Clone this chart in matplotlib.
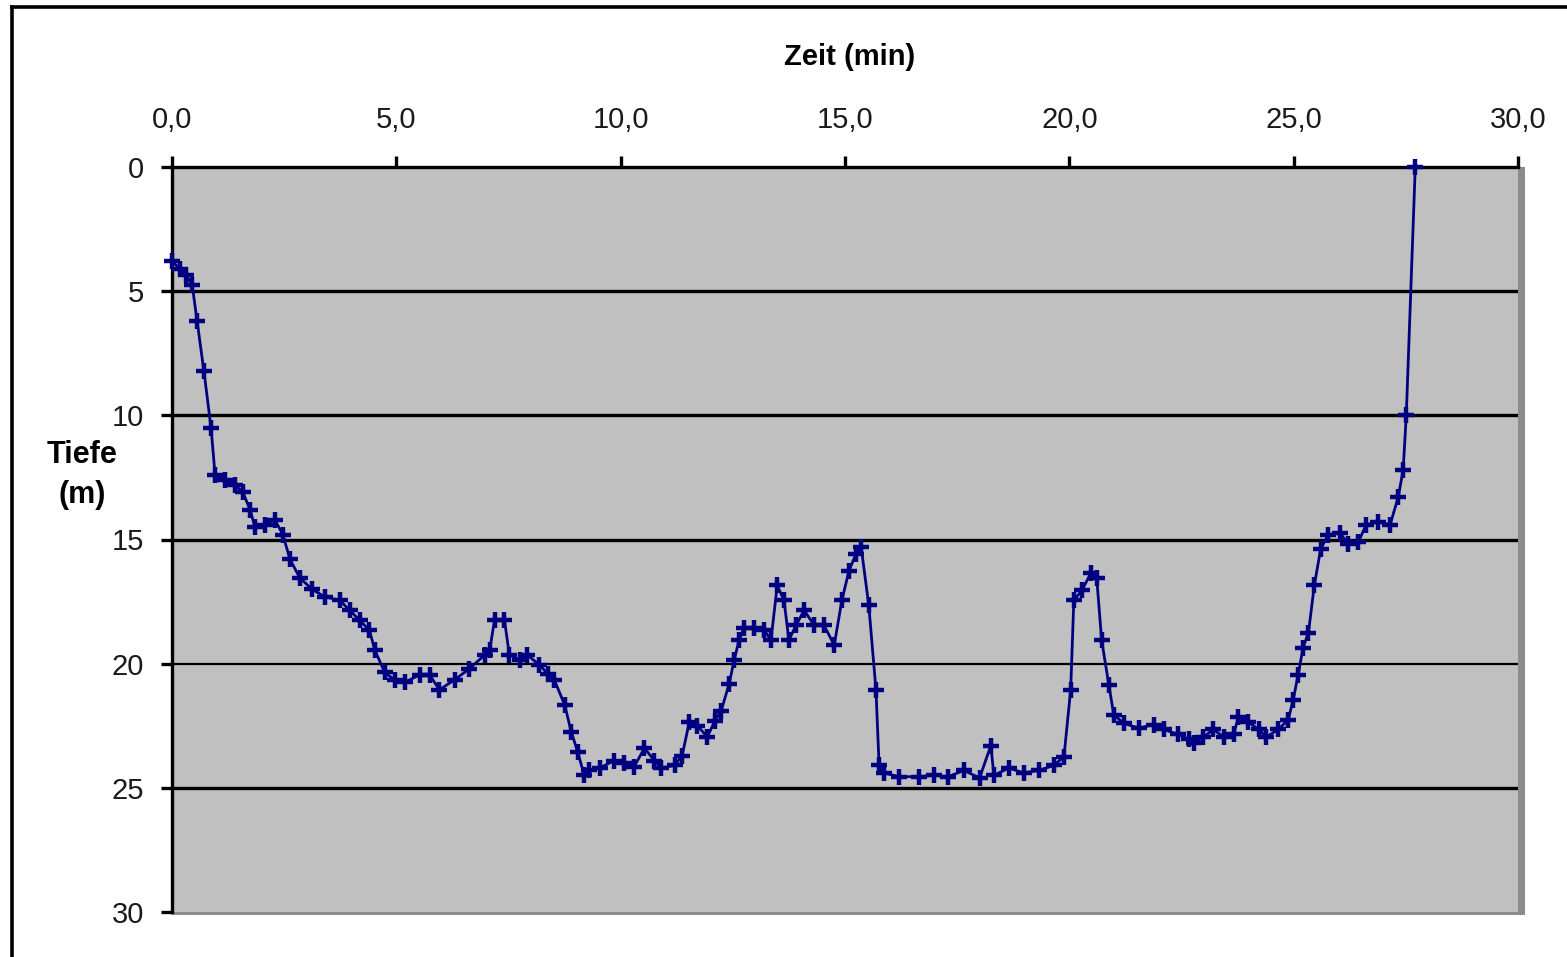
import matplotlib
matplotlib.use("Agg")
import matplotlib.pyplot as plt
from matplotlib.patches import Rectangle
from matplotlib.lines import Line2D

# ---- data ----
zeit_min = [0.00, 0.18, 0.31, 0.45, 0.56, 0.71, 0.87, 0.96, 1.18, 1.40, 1.58, 1.74,
            1.85, 2.07, 2.29, 2.47, 2.63, 2.85, 3.12, 3.40, 3.74, 3.96, 4.18, 4.40,
            4.52, 4.74, 4.96, 5.19, 5.52, 5.74, 5.96, 6.30, 6.63, 6.97, 7.08, 7.19,
            7.41, 7.52, 7.75, 7.92, 8.19, 8.37, 8.52, 8.75, 8.90, 9.04, 9.19, 9.30,
            9.53, 9.86, 10.08, 10.30, 10.53, 10.75, 10.90, 11.20, 11.37, 11.53, 11.71,
            11.93, 12.10, 12.24, 12.42, 12.53, 12.64, 12.75, 12.98, 13.20, 13.35, 13.49,
            13.64, 13.75, 13.91, 14.09, 14.31, 14.53, 14.76, 14.93, 15.09, 15.24, 15.36,
            15.53, 15.69, 15.76, 15.87, 16.20, 16.65, 16.98, 17.30, 17.65, 18.00, 18.25,
            18.32, 18.65, 18.98, 19.32, 19.65, 19.88, 20.03, 20.10, 20.28, 20.48, 20.61,
            20.72, 20.88, 20.99, 21.21, 21.55, 21.88, 22.10, 22.43, 22.66, 22.77, 22.99,
            23.21, 23.44, 23.66, 23.77, 23.99, 24.22, 24.39, 24.66, 24.88, 24.99, 25.10,
            25.21, 25.33, 25.46, 25.60, 25.77, 26.04, 26.22, 26.44, 26.62, 26.89, 27.15,
            27.33, 27.44, 27.51, 27.71]
tiefe_m = [3.8, 4.1, 4.35, 4.75, 6.2, 8.2, 10.5, 12.4, 12.6, 12.8, 13.1, 13.8,
           14.5, 14.4, 14.2, 14.8, 15.8, 16.55, 17.0, 17.3, 17.45, 17.85, 18.25, 18.65,
           19.45, 20.35, 20.65, 20.75, 20.45, 20.45, 21.05, 20.65, 20.2, 19.65, 19.45, 18.25,
           18.25, 19.65, 19.85, 19.65, 20.05, 20.4, 20.65, 21.65, 22.75, 23.55, 24.5, 24.3,
           24.2, 23.9, 24.0, 24.15, 23.4, 23.9, 24.2, 24.1, 23.7, 22.35, 22.5,
           22.95, 22.3, 21.9, 20.8, 19.85, 19.05, 18.55, 18.55, 18.65, 19.05, 16.85,
           17.45, 19.05, 18.45, 17.85, 18.45, 18.45, 19.25, 17.45, 16.25, 15.6, 15.3,
           17.65, 21.05, 24.1, 24.4, 24.55, 24.55, 24.5, 24.55, 24.3, 24.6, 23.3,
           24.5, 24.2, 24.4, 24.3, 24.1, 23.75, 21.05, 17.45, 17.05, 16.35, 16.55,
           19.05, 20.85, 22.05, 22.4, 22.6, 22.45, 22.65, 22.85, 23.05, 23.2, 22.95,
           22.65, 22.95, 22.85, 22.15, 22.35, 22.65, 22.95, 22.65, 22.25, 21.45, 20.45,
           19.35, 18.75, 16.85, 15.4, 14.8, 14.75, 15.2, 15.1, 14.4, 14.3, 14.4,
           13.3, 12.2, 10.0, 0.0]

x_ticks = [0, 5, 10, 15, 20, 25, 30]
x_tick_labels = ["0,0", "5,0", "10,0", "15,0", "20,0", "25,0", "30,0"]
y_ticks = [0, 5, 10, 15, 20, 25, 30]
y_tick_labels = ["0", "5", "10", "15", "20", "25", "30"]

W, H = 1567, 957
fig = plt.figure(figsize=(W / 100, H / 100), dpi=100)
fig.patch.set_facecolor("white")
plt.rcParams["font.family"] = ["Liberation Sans", "DejaVu Sans"]

def px(x0, y0, x1, y1):
    return [x0 / W, 1 - y1 / H, (x1 - x0) / W, (y1 - y0) / H]

ax = fig.add_axes(px(172, 167, 1518, 912))
ax.set_facecolor("#C0C0C0")
ax.set_xlim(0, 30)
ax.set_ylim(30, 0)

# gridlines
for yv in [5, 10, 15, 25]:
    ax.axhline(yv, color="black", lw=2.4, zorder=1)
ax.axhline(20, color="black", lw=1.6, zorder=1)

ax.plot(zeit_min, tiefe_m, color="#000080", lw=2.0, marker="+",
        markersize=11, markeredgewidth=3.2, zorder=3, clip_on=False)

# axes styling
ax.xaxis.tick_top()
ax.set_xticks(x_ticks)
ax.set_xticklabels(x_tick_labels)
ax.set_yticks(y_ticks)
ax.set_yticklabels(y_tick_labels)
ax.tick_params(axis="x", which="both", direction="out", length=8, width=2.4,
               pad=16, labelsize=21, colors="black", labelcolor="#1a1a1a")
ax.tick_params(axis="y", which="both", direction="out", length=8, width=2.4,
               pad=12, labelsize=21, colors="black", labelcolor="#1a1a1a")
for s in ["top", "left"]:
    ax.spines[s].set_color("black")
    ax.spines[s].set_linewidth(2.4)
for s in ["right", "bottom"]:
    ax.spines[s].set_visible(False)

# plot-area shadow border (right and bottom, gray)
ax.add_patch(Rectangle((1.0, 0.0), 7 / 1346, 1.0, transform=ax.transAxes,
                       facecolor="#8c8c8c", edgecolor="none", clip_on=False, zorder=0))
ax.add_patch(Rectangle((0.0, -3 / 745), 1.0 + 7 / 1346, 3 / 745, transform=ax.transAxes,
                       facecolor="#8c8c8c", edgecolor="none", clip_on=False, zorder=0))

# titles
fig.text(850 / W, 1 - 57 / H, "Zeit (min)", ha="center", va="center",
         fontsize=21, fontweight="bold")
fig.text(82 / W, 1 - 475 / H, "Tiefe\n(m)", ha="center", va="center",
         fontsize=22, fontweight="bold", linespacing=1.4)

# outer chart frame (left and top visible)
fig.add_artist(Line2D([12 / W, 12 / W], [0, 1 - 7 / H], transform=fig.transFigure,
                      color="black", lw=2.6))
fig.add_artist(Line2D([12 / W, 1], [1 - 7 / H, 1 - 7 / H], transform=fig.transFigure,
                      color="black", lw=2.6))

fig.savefig("out.png", dpi=100, facecolor="white")
